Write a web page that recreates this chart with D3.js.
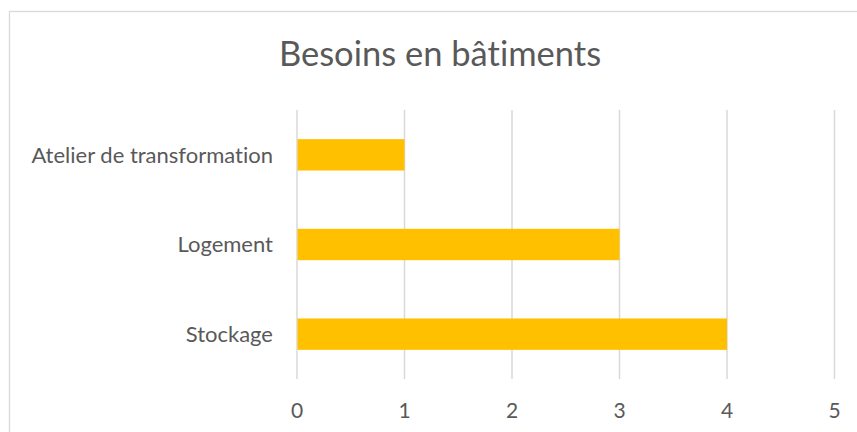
<!DOCTYPE html>
<html>
<head>
<meta charset="utf-8">
<script src="https://cdn.jsdelivr.net/npm/d3@7"></script>
<style>
  body { margin: 0; background: #fff; }
  text { font-family: Lato, "Open Sans", sans-serif; fill: #595959; font-variant-ligatures: none; }
</style>
</head>
<body>
<div id="chart"></div>
<script>
let width = 857,
    height = 432;

// data
let categories = ["Atelier de transformation", "Logement", "Stockage"];
let values = [1, 3, 4];
let ticks = [0, 1, 2, 3, 4, 5];
let title = "Besoins en bâtiments";

let svg = d3.select("#chart").append("svg")
    .attr("width", width)
    .attr("height", height);

// chart frame (runs off right/bottom edges)
svg.append("rect")
    .attr("x", 9.5).attr("y", 11.5)
    .attr("width", 900).attr("height", 500)
    .attr("fill", "#fff")
    .attr("stroke", "#d9d9d9")
    .attr("stroke-width", 1.3);

let x = d3.scaleLinear()
    .domain([0, 5])
    .range([297, 834.5]);

let y = d3.scaleBand()
    .domain(categories)
    .range([110, 379])
    .paddingInner(0.65)
    .paddingOuter(0.325);

// gridlines
svg.append("g").selectAll("line")
    .data(ticks)
    .enter().append("line")
    .attr("x1", d => x(d)).attr("x2", d => x(d))
    .attr("y1", 110).attr("y2", 379)
    .attr("stroke", "#d9d9d9")
    .attr("stroke-width", 1.5);

// bars
svg.append("g").selectAll("rect")
    .data(values)
    .enter().append("rect")
    .attr("x", x(0) + 0.5)
    .attr("y", (d, i) => y(categories[i]))
    .attr("width", d => x(d) - x(0) - 0.5)
    .attr("height", y.bandwidth())
    .attr("fill", "#ffc000");

// category labels
svg.append("g").selectAll("text")
    .data(categories)
    .enter().append("text")
    .attr("x", 273)
    .attr("y", d => y(d) + y.bandwidth() / 2)
    .attr("dy", "0.35em")
    .attr("text-anchor", "end")
    .style("font-size", "22px")
    .text(d => d);

// tick labels
svg.append("g").selectAll("text")
    .data(ticks)
    .enter().append("text")
    .attr("x", d => x(d))
    .attr("y", 411)
    .attr("dy", "0.35em")
    .attr("text-anchor", "middle")
    .style("font-size", "21px")
    .text(d => d);

// title
svg.append("text")
    .attr("x", 440)
    .attr("y", 66)
    .attr("text-anchor", "middle")
    .style("font-size", "34.5px")
    .text(title);
</script>
</body>
</html>
